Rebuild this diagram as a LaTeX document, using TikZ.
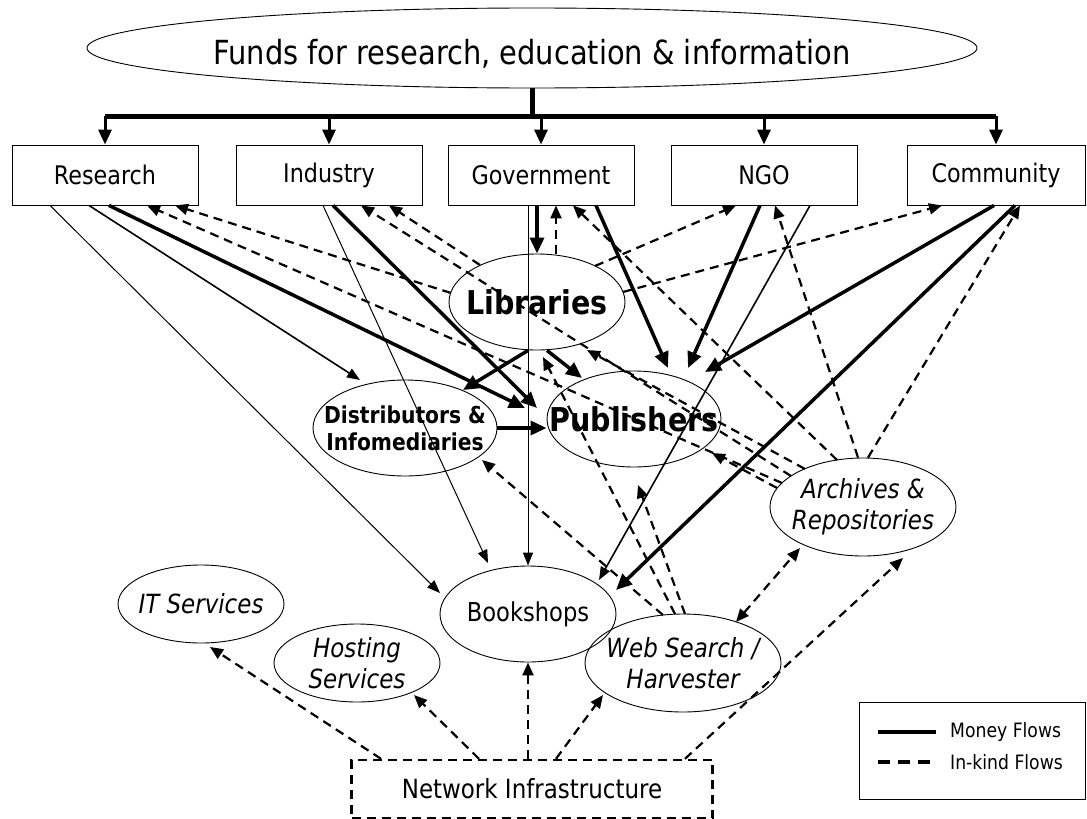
\documentclass[tikz,border=0pt]{standalone}
\usepackage{fontspec}
\setmainfont{DejaVu Sans}[FakeStretch=0.87]
\usetikzlibrary{arrows.meta, shapes.geometric}

\tikzset{
  actor/.style={draw, line width=0.9pt, minimum width=186pt, minimum height=60pt, inner sep=0pt, font=\fontsize{25.6}{30}\selectfont},
  orb/.style={draw, ellipse, line width=0.9pt, inner sep=0pt},
  boldbig/.style={font=\fontsize{32.8}{38}\selectfont\bfseries},
  boldmid/.style={font=\fontsize{23.3}{27}\selectfont\bfseries, align=center},
  plaintext/.style={font=\fontsize{26}{30}\selectfont},
  slanttext/.style={font=\fontsize{26.4}{31}\selectfont\itshape, align=center},
  legendtext/.style={font=\fontsize{19.8}{23}\selectfont, inner sep=0pt, anchor=west},
  moneyflow/.style={line width=3.5pt, -{Triangle[length=16pt,width=14pt]}},
  mediumflow/.style={line width=1.6pt, -{Triangle[length=13pt,width=10pt]}},
  thinflow/.style={line width=1pt, -{Triangle[length=13pt,width=10pt]}},
  kindflow/.style={line width=2.2pt, dash pattern=on 9pt off 6pt, ->},
  kindboth/.style={kindflow, <->},
}

\begin{document}
\begin{tikzpicture}[x=1pt, y=-1pt, >={Triangle[length=13pt,width=11pt]}]
\useasboundingbox (0,0) rectangle (1087,819);

% funding source and the five sectors
\node[orb, minimum width=890pt, minimum height=80pt, label={[font=\fontsize{33.2}{38}\selectfont, yshift=-6pt]center:{Funds for research, education \& information}}] (funds) at (532,48) {};
\node[actor] (research)   at (105,175) {Research};
\node[actor] (industry)   at (329,175) {Industry};
\node[actor] (government) at (541,175) {Government};
\node[actor] (ngo)        at (764,175) {NGO};
\node[actor, minimum width=178pt] (community) at (996,175) {Community};

\coordinate (bus) at (0,116);
\draw[line width=5pt] (funds.south) -- (funds.south |- bus);
\draw[line width=5pt] (research.north |- bus) -- (community.north |- bus);
\foreach \n in {research, industry, government, ngo, community}
  \draw[line width=3pt, -{Triangle[length=15pt,width=13pt]}] (\n.north |- bus) -- (\n.north);

% intermediaries
\node[orb, minimum width=176pt, minimum height=96pt, label={[boldbig]center:Libraries}] (libraries) at (537,302) {};
\node[orb, minimum width=174pt, minimum height=96pt, label={[boldbig]center:Publishers}] (publishers) at (634,419) {};
\node[orb, minimum width=184pt, minimum height=96pt, label={[boldmid]center:{Distributors \&\\Infomediaries}}] (distributors) at (405,428) {};
\node[orb, minimum width=176pt, minimum height=96pt, label={[plaintext]center:Bookshops}] (bookshops) at (528,614) {};
\node[orb, minimum width=166pt, minimum height=78pt, label={[slanttext]center:IT Services}] (itservices) at (201,604) {};
\node[orb, minimum width=166pt, minimum height=78pt, label={[slanttext]center:{Hosting\\Services}}] (hosting) at (357,663) {};
\node[orb, minimum width=196pt, minimum height=98pt, label={[slanttext]center:{Web Search /\\Harvester}}] (websearch) at (683,663) {};
\node[orb, minimum width=186pt, minimum height=98pt, label={[slanttext]center:{Archives \&\\Repositories}}] (archives) at (863,507) {};
\node[draw, line width=2.4pt, dash pattern=on 9pt off 6pt, minimum width=361pt, minimum height=58pt, font=\fontsize{26.4}{30}\selectfont] (network) at (532,789) {Network Infrastructure};

% money flows
\draw[moneyflow] ([xshift=4pt]research.south) -- ([shift={(-109,-11)}]publishers.center);
\draw[moneyflow] ([xshift=4pt]industry.south) -- ([shift={(-97,-11)}]publishers.center);
\draw[moneyflow] ([xshift=-4pt]government.south) -- (libraries.north);
\draw[moneyflow] ([xshift=55pt]government.south) -- ([shift={(34,-51)}]publishers.center);
\draw[moneyflow] ([xshift=-4pt]ngo.south) -- ([shift={(54,-51)}]publishers.center);
\draw[moneyflow] ([xshift=-2pt]community.south) -- ([shift={(71,-47)}]publishers.center);
\draw[moneyflow] ([xshift=19pt]community.south) -- ([shift={(88,-24)}]bookshops.center);
\draw[moneyflow] ([xshift=-9pt]libraries.south) -- ([shift={(58,-38)}]distributors.center);
\draw[moneyflow] ([xshift=10pt]libraries.south) -- ([shift={(-52,-41)}]publishers.center);
\draw[moneyflow] (distributors.east) -- (distributors.east -| publishers.west);
\draw[mediumflow] ([xshift=-16pt]research.south) -- ([shift={(-45,-48)}]distributors.center);
\draw[mediumflow] ([xshift=46pt]ngo.south) -- ([shift={(71,-34)}]bookshops.center);
\draw[thinflow] ([xshift=-55pt]research.south) -- ([shift={(-88,-21)}]bookshops.center);
\draw[thinflow] ([xshift=-6pt]industry.south) -- ([shift={(-40,-51)}]bookshops.center);
\draw[thinflow] ([xshift=-13pt]government.south) -- (bookshops.north);

% in-kind flows from libraries
\draw[kindflow] ([shift={(-86,-9)}]libraries.center) -- ([xshift=70pt]research.south);
\draw[kindflow] ([shift={(-57,-37)}]libraries.center) -- ([xshift=60pt]industry.south);
\draw[kindflow] ([xshift=19pt]libraries.north) -- ([xshift=15pt]government.south);
\draw[kindflow] ([shift={(58,-36)}]libraries.center) -- ([xshift=-28pt]ngo.south);
\draw[kindflow] ([shift={(86,-10)}]libraries.center) -- ([xshift=-54pt]community.south);

% in-kind flows from archives
\draw[kindflow] ([shift={(-81,-24)}]archives.center) -- ([xshift=42pt]research.south);
\draw[kindflow] ([shift={(-72,-31)}]archives.center) -- ([xshift=32pt]industry.south);
\draw[kindflow] ([shift={(-58,-38)}]archives.center) -- ([shift={(50,48)}]libraries.center);
\draw[kindflow] ([shift={(-86,-19)}]archives.center) -- ([shift={(78,34)}]publishers.center);
\draw[kindflow] ([shift={(-26,-47)}]archives.center) -- ([xshift=32pt]government.south);
\draw[kindflow] ([xshift=-5pt]archives.north) -- ([xshift=11pt]ngo.south);
\draw[kindflow] ([xshift=5pt]archives.north) -- ([xshift=24pt]community.south);

% in-kind flows from web search
\draw[kindflow] ([shift={(-8,-49)}]websearch.center) -- ([shift={(6,55)}]libraries.center);
\draw[kindflow] ([shift={(2,-49)}]websearch.center) -- ([shift={(4,66)}]publishers.center);
\draw[kindflow] ([shift={(-20,-48)}]websearch.center) -- ([shift={(77,32)}]distributors.center);
\draw[kindboth] ([shift={(53,-41)}]websearch.center) -- ([shift={(-63,41)}]archives.center);

% in-kind flows from the network
\draw[kindflow] ([xshift=-151pt]network.north) -- ([shift={(9,43)}]itservices.center);
\draw[kindflow] ([xshift=-53pt]network.north) -- ([shift={(57,32)}]hosting.center);
\draw[kindflow] ([xshift=-4pt]network.north) -- (bookshops.south);
\draw[kindflow] ([xshift=24pt]network.north) -- ([shift={(-80,32)}]websearch.center);
\draw[kindflow] ([xshift=153pt]network.north) -- ([shift={(40,51)}]archives.center);

% legend
\node[draw, line width=0.9pt, minimum width=226pt, minimum height=97pt] (legend) at (972,750.5) {};
\node[legendtext] (moneylabel) at (950,732) {Money Flows};
\node[legendtext] (kindlabel)  at (950,762) {In-kind Flows};
\draw[line width=3.5pt] ([xshift=-72pt]moneylabel.west) -- ([xshift=-14pt]moneylabel.west);
\draw[line width=3.5pt, dash pattern=on 12pt off 8pt] ([xshift=-72pt]kindlabel.west) -- ([xshift=-14pt]kindlabel.west);
\end{tikzpicture}
\end{document}
